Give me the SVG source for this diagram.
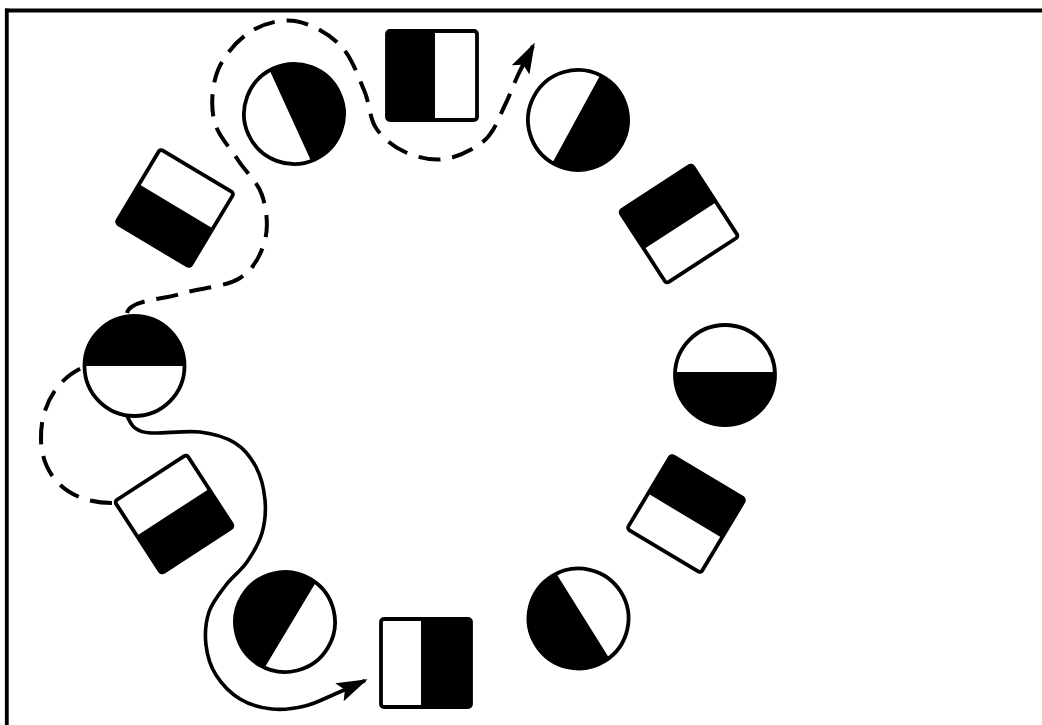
<svg xmlns="http://www.w3.org/2000/svg" width="1042" height="725" viewBox="0 0 1042 725">
<style>
.frame{stroke:#000;stroke-width:3.8;fill:none}
.wf{fill:#fff;stroke:none}
.bk{fill:#000;stroke:none}
.ol{fill:none;stroke:#000;stroke-width:3.8}
.solid{fill:none;stroke:#000;stroke-width:3.6;stroke-linecap:round}
.dash{fill:none;stroke:#000;stroke-width:4;stroke-dasharray:22 12}
</style>
<defs>
<marker id="arrow" viewBox="0 0 31 20" refX="27" refY="10" markerWidth="31" markerHeight="20" markerUnits="userSpaceOnUse" orient="auto">
<path d="M0,0 L31,10 L0,20 L6,10 Z" fill="#000" stroke="none"/>
</marker>
</defs>
<rect x="0" y="0" width="1042" height="725" fill="#fff"/>
<g id="frame">
<line class="frame" x1="5" y1="10.5" x2="1042" y2="10.5"/>
<line class="frame" x1="6.8" y1="8.6" x2="6.8" y2="725"/>
</g>

<g id="connectors">
<path class="dash" d="M112,503 C70,503 42,478 41,440 C40,405 58,378 84,367"/>
<path class="dash" marker-end="url(#arrow)" d="M127,313 C130,300 161.2,299.8 180,294 C198.8,288.2 225.8,287 240,278 C254.2,269 261.3,253.8 265,240 C268.7,226.2 266.5,208.3 262,195 C257.5,181.7 246,172.5 238,160 C230,147.5 217.3,135 214,120 C210.7,105 212,84.7 218,70 C224,55.3 237.2,40.2 250,32 C262.8,23.8 280,18.8 295,21 C310,23.2 328.5,33.5 340,45 C351.5,56.5 358,76.2 364,90 C370,103.8 369.2,117.7 376,128 C382.8,138.3 393.5,146.8 405,152 C416.5,157.2 431.7,161 445,159 C458.3,157 475,149 485,140 C495,131 499.5,115.8 505,105 C510.5,94.2 513.3,84.8 518,75 C522.7,65.2 530.5,50.8 533,46"/>
<path class="solid" marker-end="url(#arrow)" d="M127,416 C128.3,418 130.8,425.2 135,428 C139.2,430.8 141.2,432.3 152,433 C162.8,433.7 186.2,430.3 200,432 C213.8,433.7 225.7,437.2 235,443 C244.3,448.8 251,457.5 256,467 C261,476.5 264,489 265,500 C266,511 265,522.7 262,533 C259,543.3 253,553.3 247,562 C241,570.7 232.3,576.7 226,585 C219.7,593.3 212.3,602 209,612 C205.7,622 204.8,634.5 206,645 C207.2,655.5 210.3,666 216,675 C221.7,684 230.7,693.3 240,699 C249.3,704.7 261.2,707.8 272,709 C282.8,710.2 294.5,708.5 305,706 C315.5,703.5 325.2,698.2 335,694 C344.8,689.8 359.2,683.2 364,681"/>
</g>

<g id="circle-top-left" transform="translate(294,114) rotate(-24.6)">
<circle class="wf" r="50"/>
<path class="bk" d="M-4,-49.84 A50,50 0 1,1 -4,49.84 Z"/>
<circle class="ol" r="50"/>
</g>
<g id="square-top">
<rect class="wf" x="387" y="31" width="90" height="89" rx="3"/>
<rect class="bk" x="387" y="31" width="48" height="89"/>
<rect class="ol" x="387" y="31" width="90" height="89" rx="3"/>
</g>
<g id="circle-top-right" transform="translate(578,120) rotate(28.6)">
<circle class="wf" r="50"/>
<path class="bk" d="M-2,-49.96 A50,50 0 1,1 -2,49.96 Z"/>
<circle class="ol" r="50"/>
</g>
<g id="square-upper-right" transform="translate(679,224) rotate(-33)">
<rect class="wf" x="-43" y="-43" width="86" height="86" rx="3"/>
<rect class="bk" x="-43" y="-43" width="86" height="45"/>
<rect class="ol" x="-43" y="-43" width="86" height="86" rx="3"/>
</g>
<g id="circle-right" transform="translate(725,375) rotate(90)">
<circle class="wf" r="50"/>
<path class="bk" d="M-3,-49.9 A50,50 0 1,1 -3,49.9 Z"/>
<circle class="ol" r="50"/>
</g>
<g id="square-lower-right" transform="translate(686,514) rotate(31)">
<rect class="wf" x="-43" y="-43" width="86" height="86" rx="3"/>
<rect class="bk" x="-43" y="-43" width="86" height="45"/>
<rect class="ol" x="-43" y="-43" width="86" height="86" rx="3"/>
</g>
<g id="circle-bottom-right" transform="translate(578.5,618.5) rotate(148)">
<circle class="wf" r="50"/>
<path class="bk" d="M-5,-49.75 A50,50 0 1,1 -5,49.75 Z"/>
<circle class="ol" r="50"/>
</g>
<g id="square-bottom">
<rect class="wf" x="381" y="619" width="90" height="88" rx="3"/>
<rect class="bk" x="421" y="619" width="50" height="88"/>
<rect class="ol" x="381" y="619" width="90" height="88" rx="3"/>
</g>
<g id="circle-bottom-left" transform="translate(285,622) rotate(211)">
<circle class="wf" r="50"/>
<path class="bk" d="M-6,-49.64 A50,50 0 1,1 -6,49.64 Z"/>
<circle class="ol" r="50"/>
</g>
<g id="square-lower-left" transform="translate(174,514) rotate(-33)">
<rect class="wf" x="-43" y="-43" width="86" height="86" rx="3"/>
<rect class="bk" x="-43" y="-2" width="86" height="45"/>
<rect class="ol" x="-43" y="-43" width="86" height="86" rx="3"/>
</g>
<g id="circle-left" transform="translate(134.5,366) rotate(-90)">
<circle class="wf" r="50"/>
<path class="bk" d="M0,-50 A50,50 0 1,1 0,50 Z"/>
<circle class="ol" r="50"/>
</g>
<g id="square-upper-left" transform="translate(175,208) rotate(31)">
<rect class="wf" x="-43" y="-43" width="86" height="86" rx="3"/>
<rect class="bk" x="-43" y="-2" width="86" height="45"/>
<rect class="ol" x="-43" y="-43" width="86" height="86" rx="3"/>
</g>
</svg>
